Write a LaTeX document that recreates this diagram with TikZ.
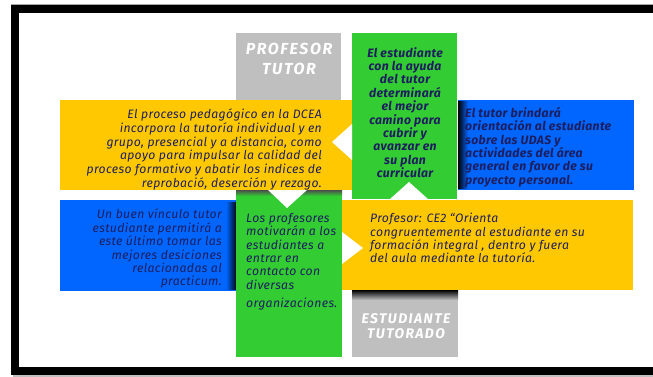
\documentclass[tikz,border=0pt]{standalone}
\usepackage{fontspec}
\setmainfont{Fira Sans}
\newfontfamily\cuerpo[LetterSpace=3]{Fira Sans}
\newfontfamily\rotulo[LetterSpace=10]{Fira Sans}

\definecolor{amarillo}{RGB}{255,200,0}
\definecolor{azul}{RGB}{0,102,255}
\definecolor{verde}{RGB}{51,204,51}
\definecolor{gris}{RGB}{191,191,191}
\definecolor{tinta}{RGB}{30,30,95}

\tikzset{
  caja/.style={rectangle, inner sep=0pt, outer sep=0pt, anchor=north west},
  texto/.style={inner sep=0pt, text=tinta, font=\cuerpo\fontsize{12.2}{13.4}\selectfont\itshape},
  negrita/.style={texto, font=\cuerpo\fontsize{12.2}{13.4}\selectfont\bfseries\itshape},
  titulo/.style={inner sep=0pt, text=white, align=center}
}

\begin{document}
\begin{tikzpicture}[x=1pt,y=-1pt]
  \useasboundingbox (0,0) rectangle (653,377);

  % marco
  \fill[black!35] (11,4) rectangle (653,5);
  \draw[line width=8pt] (660,9) -- (15,9) -- (15,370.5) -- (660,370.5);
  \fill[black!25] (13,374.5) rectangle (653,377);

  \begin{scope}[every node/.style={caja}]
    \node[fill=gris, minimum width=105, minimum height=70]  (gristutor) at (236,33) {};
    \node[fill=gris, minimum width=106, minimum height=72]  (grisestud) at (352,285) {};
    \node[fill=azul, minimum width=176, minimum height=90]  (azularriba) at (458,100) {};
    \node[fill=azul, minimum width=177, minimum height=91]  (azulabajo) at (60,200) {};
  \end{scope}

  % sombras
  \shade[left color=black, right color=azul] (458,102) rectangle (468,188);
  \shade[left color=azul, right color=black] (226,202) rectangle (237,289);
  \shade[top color=black, bottom color=gris] (352,290) rectangle (458,300);

  \begin{scope}[every node/.style={caja}]
    \node[fill=verde, minimum width=105, minimum height=166] (verdearriba) at (352,33) {};
    \node[fill=verde, minimum width=106, minimum height=172] (verdeabajo) at (236,185) {};
  \end{scope}
  \shade[top color=black!70, bottom color=verde] (236,190) rectangle (342,196);

  \begin{scope}[every node/.style={caja}]
    \node[fill=amarillo, minimum width=292, minimum height=90] (amarilloarriba) at (60,100) {};
    \node[fill=amarillo, minimum width=291, minimum height=90] (amarilloabajo) at (342,200) {};
  \end{scope}

  % muescas
  \fill[white] (352,124) -- (332,142) -- (352,160) -- cycle;
  \fill[white] (390,199) -- (409,182) -- (428,199) -- cycle;
  \fill[white] (268,190) -- (287,208) -- (307,190) -- cycle;
  \fill[white] (342,232) -- (363,248) -- (342,264) -- cycle;

  % textos
  \node[titulo, anchor=north, font=\rotulo\fontsize{16}{20}\selectfont\bfseries\itshape]
    (tprofesor) at (289,43) {PROFESOR\\TUTOR};
  \node[titulo, anchor=north, font=\rotulo\fontsize{14}{15}\selectfont\bfseries\itshape]
    (testudiante) at (406,313.4) {ESTUDIANTE\\TUTORADO};

  \node[negrita, anchor=north, align=center] (tcamino) at (405,47)
    {El estudiante\\con la ayuda\\del tutor\\determinará\\el mejor\\camino para\\cubrir y\\avanzar en\\su plan\\curricular};
  \node[texto, anchor=north east, align=right, font=\cuerpo\fontsize{12.2}{13.8}\selectfont\itshape]
    (tproceso) at (322,108.5)
    {El proceso pedagógico en la DCEA\\incorpora la tutoría individual y en\\grupo, presencial y a distancia, como\\apoyo para impulsar la calidad del\\proceso formativo y abatir los indices de\\reprobació, deserción y rezago.};
  \node[negrita, anchor=north west, align=left] (torientacion) at (465,107)
    {El tutor brindará\\orientación al estudiante\\sobre las UDAS y\\actividades del área\\general en favor de su\\proyecto personal.};
  \node[texto, anchor=north east, align=right] (tvinculo) at (222,209)
    {Un buen vínculo tutor\\estudiante permitirá a\\este último tomar las\\mejores desiciones\\relacionadas al\\practicum.};
  \node[texto, anchor=north west, align=left] (tmotivan) at (246,213)
    {Los profesores\\motivarán a los\\estudiantes a\\entrar en\\contacto con\\diversas\\[4.5pt]organizaciones.};
  \node[texto, anchor=north west, align=left] (tce) at (370,213)
    {Profesor: CE2 “Orienta\\congruentemente al estudiante en su\\formación integral , dentro y fuera\\del aula mediante la tutoría.};
\end{tikzpicture}
\end{document}
